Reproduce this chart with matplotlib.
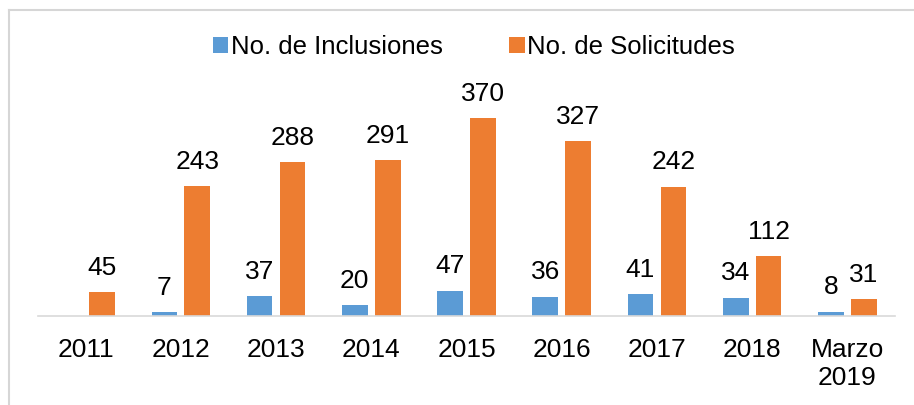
import matplotlib.pyplot as plt
import numpy as np
from matplotlib.lines import Line2D

# data
categories = ['2011', '2012', '2013', '2014', '2015', '2016', '2017', '2018', 'Marzo\n2019']
inclusiones = [np.nan, 7, 37, 20, 47, 36, 41, 34, 8]
solicitudes = [45, 243, 288, 291, 370, 327, 242, 112, 31]

plt.rcParams['font.family'] = ['Liberation Sans', 'DejaVu Sans']

W, H = 914, 405
fig = plt.figure(figsize=(W / 100, H / 100), dpi=100)
ax = fig.add_axes([38 / W, 89 / H, 857 / W, 214 / H])

x = np.arange(len(categories))
width = 0.27
off = 0.173
blue = '#5B9BD5'
orange = '#ED7D31'

ax.bar(x - off, inclusiones, width, color=blue, label='No. de Inclusiones')
ax.bar(x + off, solicitudes, width, color=orange, label='No. de Solicitudes')

for xi, v in zip(x, inclusiones):
    if not np.isnan(v):
        ax.annotate(f'{v:g}', (xi - off, v), xytext=(0, 12.5), textcoords='offset points',
                    ha='center', va='baseline', fontsize=19)
for xi, v in zip(x, solicitudes):
    ax.annotate(f'{v:g}', (xi + off, v), xytext=(0, 12.5), textcoords='offset points',
                ha='center', va='baseline', fontsize=19)

ax.set_xlim(-0.5, len(categories) - 0.5)
ax.set_ylim(0, 400)
ax.set_xticks(x)
ax.set_xticklabels(categories, fontsize=19, linespacing=1.2)
ax.tick_params(axis='x', length=0, pad=16)
ax.set_yticks([])
for s in ['top', 'right', 'left']:
    ax.spines[s].set_visible(False)
ax.spines['bottom'].set_color('#d9d9d9')
ax.spines['bottom'].set_linewidth(1.2)

fig.legend(loc='center', bbox_to_anchor=(474 / W, 1 - 47 / H), ncol=2, frameon=False,
           fontsize=18.5, handlelength=0.6, handleheight=0.6, handletextpad=0.1,
           columnspacing=2.6)

# light gray frame round the chart (top and left edges are visible)
bx = 8.5 / W
by = 1 - 9.5 / H
fig.add_artist(Line2D([bx, bx], [0, by], color='#d6d6d6', lw=1.5, transform=fig.transFigure))
fig.add_artist(Line2D([bx, 1], [by, by], color='#d6d6d6', lw=1.5, transform=fig.transFigure))

fig.savefig('out.png', dpi=100)
